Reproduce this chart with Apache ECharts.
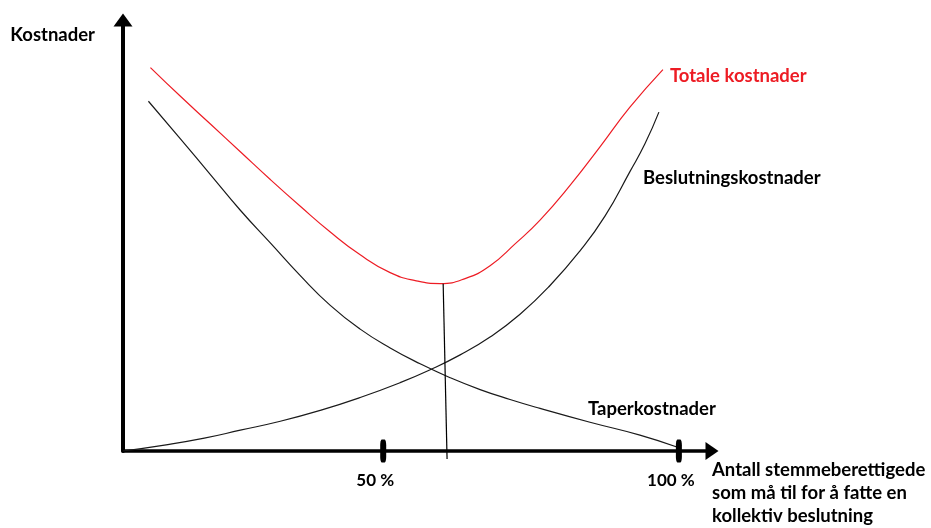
<!DOCTYPE html>
<html>
<head>
<meta charset="utf-8">
<script src="https://cdn.jsdelivr.net/npm/echarts@6/dist/echarts.min.js"></script>
<style>
html,body{margin:0;padding:0;background:#fff;}
#chart{width:931px;height:528px;}
</style>
</head>
<body>
<div id="chart"></div>
<script>
// Share of voters required (%) vs. cost (arbitrary units)
const totalX = [10.64, 15.71, 20.78, 25.84, 30.91, 35.98, 41.05, 46.11, 51.18, 55.41, 59.63, 63.85, 68.07, 72.3, 76.52, 81.59, 86.66, 91.72, 97.3];
const totalY = [96.75, 89.5, 82.5, 75.5, 68.5, 61.75, 55.25, 49.5, 45, 43, 42.25, 43.5, 46.75, 52.25, 58.25, 67, 76.75, 86.75, 96.25];

const taperX = [10.3, 15.71, 20.78, 25.84, 30.91, 35.98, 41.05, 46.11, 51.18, 56.25, 61.32, 66.39, 71.45, 76.52, 84.97, 93.41, 99.66];
const taperY = [88.25, 78.75, 69.75, 60.75, 52.5, 44.25, 36.75, 30.75, 26, 22, 18.5, 15.5, 13, 10.75, 7.25, 4, 1];

const beslX = [6.0, 13.01, 19.76, 25.84, 32.6, 39.36, 46.11, 52.87, 57.94, 63.01, 68.07, 73.14, 78.21, 83.28, 87.5, 91.72, 94.26, 96.62];
const beslY = [0, 1.5, 3.25, 5.25, 7.5, 10.25, 13.5, 17.25, 20.5, 24.25, 28.75, 34.5, 41.75, 50.5, 59.25, 70.5, 77.5, 85.5];

const optimumX = [60.14, 60.8];
const optimumY = [42.2, -2];

const tickValues = [50, 100];
const tickLabels = ['50 %', '100 %'];

const seriesNames = ['Totale kostnader', 'Beslutningskostnader', 'Taperkostnader'];
const yName = 'Kostnader';
const xName = 'Antall stemmeberettigede\nsom må til for å fatte en\nkollektiv beslutning';

const zip = (xs, ys) => xs.map((x, i) => [x, ys[i]]);

const FONT = 'Lato';
const FS = 18.5;
const curve = { type: 'line', smooth: 0.5, showSymbol: false, silent: true };

const chart = echarts.init(document.getElementById('chart'));
chart.setOption({
  animation: false,
  backgroundColor: '#fff',
  grid: { left: 123, right: 219, top: 20, bottom: 73 },
  xAxis: {
    type: 'value', min: 6, max: 105.6,
    axisLine: { onZero: false, symbol: ['none', 'triangle'], symbolSize: [18, 13],
      lineStyle: { color: '#000', width: 3.5 } },
    axisTick: { show: false }, axisLabel: { show: false }, splitLine: { show: false },
    name: xName, nameLocation: 'end', nameGap: 0,
    nameTextStyle: { fontFamily: FONT, fontWeight: 'bold', fontSize: FS, color: '#000',
      align: 'left', verticalAlign: 'top', lineHeight: 23, padding: [8, 0, 0, 0] }
  },
  yAxis: {
    type: 'value', min: 0, max: 108.75,
    axisLine: { onZero: false, symbol: ['none', 'triangle'], symbolSize: [19, 13],
      lineStyle: { color: '#000', width: 4 } },
    axisTick: { show: false }, axisLabel: { show: false }, splitLine: { show: false },
    name: yName, nameLocation: 'end', nameGap: -15,
    nameTextStyle: { fontFamily: FONT, fontWeight: 'bold', fontSize: FS, color: '#000',
      align: 'right', verticalAlign: 'middle', padding: [0, 28, 0, 0] }
  },
  series: [
    Object.assign({}, curve, {
      name: seriesNames[0], data: zip(totalX, totalY),
      lineStyle: { color: '#ED1C24', width: 1.2 }, itemStyle: { color: '#ED1C24' },
      endLabel: { show: true, formatter: '{a}', distance: 7, offset: [0, 6],
        fontFamily: FONT, fontWeight: 'bold', fontSize: FS, color: '#ED1C24' }
    }),
    Object.assign({}, curve, {
      name: seriesNames[1], data: zip(beslX, beslY),
      lineStyle: { color: '#1a1a1a', width: 1.2 }
    }),
    Object.assign({}, curve, {
      name: seriesNames[2], data: zip(taperX, taperY),
      lineStyle: { color: '#1a1a1a', width: 1.2 }
    }),
    {
      name: 'optimum', type: 'line', data: zip(optimumX, optimumY), clip: false, silent: true,
      showSymbol: false, lineStyle: { color: '#000', width: 1.2 }
    },
    {
      name: 'ticks', type: 'scatter', clip: false, z: 5, silent: true,
      data: tickValues.map(v => [v, 0]),
      symbol: 'roundRect', symbolSize: [6, 23], itemStyle: { color: '#000', opacity: 1 },
      label: { show: true, position: 'bottom', distance: 10, offset: [-8, 0],
        formatter: p => tickLabels[p.dataIndex], opacity: 1,
        fontFamily: FONT, fontWeight: 'bold', fontSize: 17, color: '#000' }
    }
  ],
  graphic: [
    { type: 'text', left: 643, top: 169,
      style: { text: seriesNames[1], fontFamily: FONT, fontWeight: 'bold', fontSize: FS, fill: '#000' } },
    { type: 'text', left: 588, top: 400,
      style: { text: seriesNames[2], fontFamily: FONT, fontWeight: 'bold', fontSize: FS, fill: '#000' } }
  ]
});
</script>
</body>
</html>
